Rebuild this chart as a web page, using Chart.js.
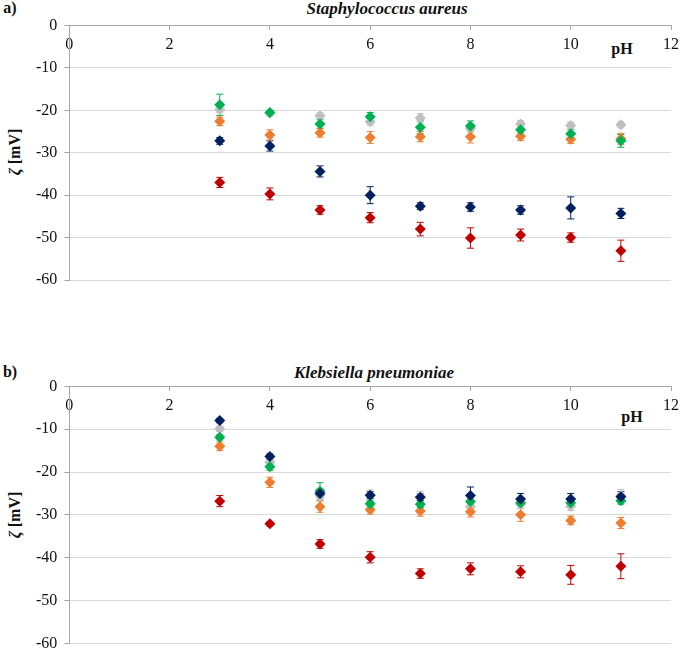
<!DOCTYPE html>
<html>
<head>
<meta charset="utf-8">
<script src="https://cdn.jsdelivr.net/npm/chart.js@4.4.1/dist/chart.umd.min.js"></script>
<style>
  body { margin: 0; width: 685px; height: 650px; overflow: hidden; background: #fff; position: relative; font-family: "Liberation Serif", "Times New Roman", serif; }
  .panel { position: absolute; left: 0; }
  .txt { position: absolute; font-weight: bold; font-size: 16px; line-height: 1; white-space: nowrap; color: #111; transform: translate(-50%, -50%); }
  .ttl { font-size: 17px; font-style: italic; }
  .ylab { transform: translate(-50%, -50%) rotate(-90deg); }
</style>
</head>
<body>

<div class="txt" style="left:10px; top:8px;">a)</div>
<div class="txt ttl" style="left:387px; top:8px;">Staphylococcus aureus</div>
<div class="txt" style="left:622px; top:49px;">pH</div>
<div class="txt ylab" style="left:15px; top:152px;"><i>ζ</i> [mV]</div>

<div class="txt" style="left:10px; top:372px;">b)</div>
<div class="txt ttl" style="left:374px; top:372px;">Klebsiella pneumoniae</div>
<div class="txt" style="left:632px; top:417px;">pH</div>
<div class="txt ylab" style="left:15px; top:515px;"><i>ζ</i> [mV]</div>

<div class="panel" style="top:0px;"><canvas id="chartA" width="685" height="300"></canvas></div>
<div class="panel" style="top:360px;"><canvas id="chartB" width="685" height="300"></canvas></div>

<script>
// pH values (x)
const pH = [3, 4, 5, 6, 7, 8, 9, 10, 11];

// a) Staphylococcus aureus
const blueA = [-27.2, -28.4, -34.4, -40.0, -42.6, -42.8, -43.5, -43.0, -44.3];
const blueAErr = [0.8, 1.2, 1.3, 2.0, 0.8, 1.0, 1.0, 2.6, 1.2];
const redA = [-37.0, -39.7, -43.5, -45.3, -48.0, -50.1, -49.4, -50.0, -53.1];
const redAErr = [1.2, 1.4, 1.0, 1.2, 1.6, 2.4, 1.4, 1.1, 2.5];
const orangeA = [-22.6, -25.8, -25.3, -26.4, -26.2, -26.2, -26.1, -26.8, -26.7];
const orangeAErr = [1.0, 1.2, 1.0, 1.4, 1.2, 1.5, 1.0, 1.0, 1.3];
const grayA = [-19.8, -20.7, -21.3, -22.7, -21.8, -24.3, -23.2, -23.6, -23.4];
const grayAErr = [0.8, 0.6, 0.7, 0.8, 1.0, 0.8, 0.8, 0.8, 0.7];
const greenA = [-18.7, -20.5, -23.2, -21.5, -24.0, -23.7, -24.6, -25.5, -27.2];
const greenAErr = [2.5, 0.5, 1.0, 1.0, 1.5, 1.2, 1.0, 1.0, 1.5];

// b) Klebsiella pneumoniae
const blueB = [-8.0, -16.4, -25.0, -25.4, -25.9, -25.5, -26.3, -26.3, -25.8];
const blueBErr = [0.5, 0.6, 1.0, 0.8, 0.8, 2.0, 1.3, 1.3, 1.2];
const redB = [-26.8, -32.1, -36.8, -39.9, -43.7, -42.6, -43.3, -44.0, -42.0];
const redBErr = [1.3, 0.5, 1.0, 1.3, 1.1, 1.4, 1.4, 2.2, 2.9];
const orangeB = [-14.0, -22.4, -28.1, -28.8, -29.1, -29.3, -30.0, -31.3, -31.9];
const orangeBErr = [1.0, 1.2, 1.3, 1.0, 1.2, 1.2, 1.5, 1.0, 1.3];
const grayB = [-9.9, -17.7, -25.5, -25.5, -25.8, -28.1, -27.5, -28.0, -25.5];
const grayBErr = [0.6, 0.6, 1.0, 1.3, 1.3, 1.5, 1.0, 1.0, 1.4];
const greenB = [-11.9, -18.8, -24.5, -27.4, -27.5, -26.9, -27.2, -27.2, -26.7];
const greenBErr = [0.6, 0.8, 2.0, 0.8, 0.8, 0.8, 0.8, 0.8, 0.8];

// axis ticks
const xTicks = [0, 2, 4, 6, 8, 10, 12];
const yTicks = [0, -10, -20, -30, -40, -50, -60];

const BLUE = "#002060", RED = "#C00000", ORANGE = "#ED7D31", GRAY = "#BFBFBF", GREEN = "#00B050";

function makeSet(label, values, errs, color) {
  return {
    label: label,
    data: pH.map((x, i) => ({ x: x, y: values[i] })),
    errors: errs,
    backgroundColor: color,
    borderColor: color,
    pointStyle: "rectRot",
    pointRadius: 5.5,
    pointHoverRadius: 5.5,
    borderWidth: 0,
    showLine: false,
  };
}

// error bars drawn through the scales, behind the markers
const errorBars = {
  id: "errorBars",
  beforeDatasetsDraw(chart) {
    const ctx = chart.ctx;
    const xs = chart.scales.x, ys = chart.scales.y;
    ctx.save();
    ctx.lineWidth = 1;
    chart.data.datasets.forEach((ds) => {
      if (!ds.errors) return;
      ctx.strokeStyle = ds.borderColor;
      ds.data.forEach((p, i) => {
        const e = ds.errors[i];
        const px = xs.getPixelForValue(p.x);
        const top = ys.getPixelForValue(p.y + e);
        const bot = ys.getPixelForValue(p.y - e);
        ctx.beginPath();
        ctx.moveTo(px, top); ctx.lineTo(px, bot);
        ctx.moveTo(px - 3.5, top); ctx.lineTo(px + 3.5, top);
        ctx.moveTo(px - 3.5, bot); ctx.lineTo(px + 3.5, bot);
        ctx.stroke();
      });
    });
    ctx.restore();
  },
};

const tickFont = { family: "'Liberation Serif', 'Times New Roman', serif", size: 16 };

function makeConfig(sets, padTop, padBottom) {
  return {
    type: "scatter",
    data: { datasets: sets },
    plugins: [errorBars],
    options: {
      responsive: false,
      animation: false,
      events: [],
      layout: { padding: { left: 29, right: 7, top: padTop, bottom: padBottom } },
      plugins: { legend: { display: false }, tooltip: { enabled: false } },
      scales: {
        x: {
          type: "linear",
          position: { y: 0 },
          min: 0,
          max: 12,
          afterBuildTicks: (s) => { s.ticks = xTicks.map((v) => ({ value: v })); },
          ticks: { font: tickFont, color: "#111", padding: 6, maxRotation: 0 },
          grid: { drawOnChartArea: false, tickLength: 4, color: "#a6a6a6" },
          border: { color: "#a6a6a6" },
        },
        y: {
          type: "linear",
          min: -60,
          max: 0,
          afterBuildTicks: (s) => { s.ticks = yTicks.map((v) => ({ value: v })); },
          ticks: { font: tickFont, color: "#111", padding: 7 },
          grid: { color: "#d9d9d9", tickLength: 5, tickColor: "#a6a6a6" },
          border: { color: "#a6a6a6" },
        },
      },
    },
  };
}

const setsA = [
  makeSet("blue", blueA, blueAErr, BLUE),
  makeSet("green", greenA, greenAErr, GREEN),
  makeSet("red", redA, redAErr, RED),
  makeSet("orange", orangeA, orangeAErr, ORANGE),
  makeSet("gray", grayA, grayAErr, GRAY),
];
const setsB = [
  makeSet("blue", blueB, blueBErr, BLUE),
  makeSet("green", greenB, greenBErr, GREEN),
  makeSet("red", redB, redBErr, RED),
  makeSet("orange", orangeB, orangeBErr, ORANGE),
  makeSet("gray", grayB, grayBErr, GRAY),
];

new Chart(document.getElementById("chartA").getContext("2d"), makeConfig(setsA, 25.5, 20));
new Chart(document.getElementById("chartB").getContext("2d"), makeConfig(setsB, 26.3, 15.7));
</script>
</body>
</html>
